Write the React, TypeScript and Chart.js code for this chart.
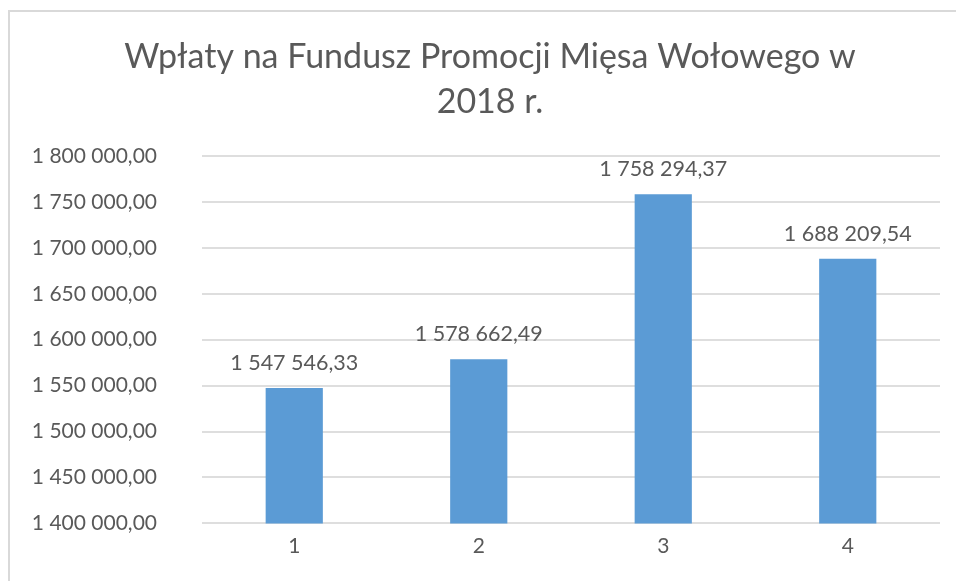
import React, { useEffect, useRef } from "react";
import { Chart, registerables } from "chart.js";

Chart.register(...registerables);

const titleLines = ["Wpłaty na Fundusz Promocji Mięsa Wołowego w", "2018 r."];
const categories = ["1", "2", "3", "4"];
const values = [1547546.33, 1578662.49, 1758294.37, 1688209.54];
const yMin = 1400000;
const yMax = 1800000;
const yStep = 50000;

const FONT = "Lato, 'Noto Sans', sans-serif";
const TEXT = "#595959";

function fmt(v: number): string {
  const fixed = v.toFixed(2);
  const [intPart, dec] = fixed.split(".");
  const withSpaces = intPart.replace(/\B(?=(\d{3})+(?!\d))/g, " ");
  return withSpaces + "," + dec;
}

const framePlugin = {
  id: "frame",
  beforeDraw(chart: any) {
    const ctx = chart.ctx;
    ctx.save();
    ctx.fillStyle = "#ffffff";
    ctx.fillRect(0, 0, chart.width, chart.height);
    ctx.strokeStyle = "#d9d9d9";
    ctx.lineWidth = 2;
    ctx.beginPath();
    ctx.moveTo(9, chart.height);
    ctx.lineTo(9, 11);
    ctx.lineTo(chart.width, 11);
    ctx.stroke();
    ctx.restore();
  },
};

const titlePlugin = {
  id: "customTitle",
  afterDraw(chart: any) {
    const ctx = chart.ctx;
    ctx.save();
    ctx.fillStyle = TEXT;
    ctx.font = `34px ${FONT}`;
    ctx.textAlign = "center";
    ctx.textBaseline = "middle";
    titleLines.forEach((line, i) => {
      ctx.fillText(line, 490, 57 + i * 45);
    });
    ctx.restore();
  },
};

const labelPlugin = {
  id: "valueLabels",
  afterDatasetsDraw(chart: any) {
    const ctx = chart.ctx;
    const meta = chart.getDatasetMeta(0);
    ctx.save();
    ctx.fillStyle = TEXT;
    ctx.font = `21.5px ${FONT}`;
    ctx.textAlign = "center";
    ctx.textBaseline = "middle";
    meta.data.forEach((bar: any, i: number) => {
      ctx.fillText(fmt(values[i]), bar.x, bar.y - 25);
    });
    ctx.restore();
  },
};

export default function App() {
  const ref = useRef<HTMLCanvasElement | null>(null);
  useEffect(() => {
    document.body.style.margin = "0";
    document.body.style.overflow = "hidden";
    const canvas = ref.current!;
    const chart = new Chart(canvas, {
      type: "bar",
      data: {
        labels: categories,
        datasets: [
          {
            data: values,
            backgroundColor: "#5b9bd5",
            borderWidth: 0,
            categoryPercentage: 1,
            barPercentage: 0.31,
          },
        ],
      },
      options: {
        animation: false,
        responsive: false,
        maintainAspectRatio: false,
        layout: { padding: { top: 156, left: 24, right: 16, bottom: 0 } },
        plugins: {
          legend: { display: false },
          title: { display: false },
          tooltip: { enabled: false },
        },
        scales: {
          x: {
            grid: { display: false, drawTicks: false },
            border: { display: false },
            ticks: {
              color: TEXT,
              font: { family: FONT, size: 21 },
              padding: 10,
            },
            afterFit(scale: any) {
              scale.height = 55;
            },
          },
          y: {
            min: yMin,
            max: yMax,
            grid: { color: "#dedede", lineWidth: 2, drawTicks: false },
            border: { display: false },
            ticks: {
              stepSize: yStep,
              color: TEXT,
              font: { family: FONT, size: 21 },
              padding: 45,
              callback: (v: any) => fmt(Number(v)),
            },
            afterFit(scale: any) {
              scale.width = 178;
            },
          },
        },
      },
      plugins: [framePlugin, titlePlugin, labelPlugin],
    } as any);
    return () => chart.destroy();
  }, []);
  return <canvas ref={ref} width={956} height={581} style={{ display: "block" }} />;
}
